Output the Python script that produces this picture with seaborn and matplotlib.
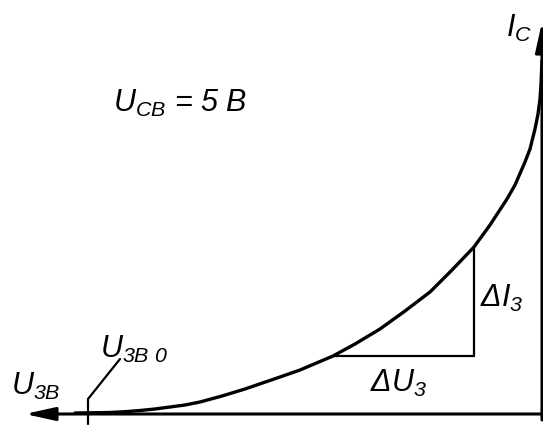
import matplotlib
matplotlib.use("Agg")
import matplotlib.pyplot as plt
import seaborn as sns
import pandas as pd

sns.set_theme(style="white")
plt.rcParams["font.family"] = ["Liberation Sans", "DejaVu Sans"]
plt.rcParams["font.style"] = "italic"
plt.rcParams["text.color"] = "black"
plt.rcParams["mathtext.fontset"] = "custom"
plt.rcParams["mathtext.it"] = "Liberation Sans:italic"
plt.rcParams["mathtext.rm"] = "Liberation Sans:italic"
plt.rcParams["mathtext.default"] = "it"

# Input characteristic: U grows to the left of the origin, I upwards
u_eb = [467, 452, 432, 417, 402, 387, 372, 357, 342, 320, 297, 262, 242,
        209, 187, 162, 137, 112, 90, 68, 52, 35, 27, 17, 12, 7, 4, 2, 1, 0]
i_c = [1, 1.2, 1.5, 2.3, 3.5, 5, 7, 9, 12, 18, 25, 37, 44,
       58, 70, 85, 103, 122, 144, 167, 189, 215, 229, 252, 265, 285, 300,
       315, 330, 353]
u_eb0 = 454          # cut-off voltage marker
lo, hi = 13, 19      # curve points that bound the increment triangle

curve = pd.DataFrame({"U": u_eb, "I": i_c})

fig = plt.figure(figsize=(5.43, 4.27), dpi=100)
ax = fig.add_axes([0, 0, 1, 1])
ax.set_xlim(542, -1)
ax.set_ylim(-12, 415)
ax.axis("off")

sns.lineplot(data=curve, x="U", y="I", sort=False, estimator=None,
             color="black", lw=2.4, ax=ax)

# coordinate axes with arrows
arrow = dict(arrowstyle="-|>,head_length=1.8,head_width=0.4", lw=2.2,
             color="black", shrinkA=0, shrinkB=0, mutation_scale=10)
ax.annotate("", xy=(517, 0), xytext=(-1, 0), arrowprops=arrow)
ax.annotate("", xy=(0, 392), xytext=(0, -6), arrowprops=arrow)

# increment triangle
ax.plot([u_eb[lo], u_eb[hi]], [i_c[lo], i_c[lo]], color="black", lw=1.6)
ax.plot([u_eb[hi], u_eb[hi]], [i_c[lo], i_c[hi]], color="black", lw=1.6)

# cut-off voltage tick and leader
ax.plot([u_eb0, u_eb0], [-10, 15], color="black", lw=1.6)
ax.plot([u_eb0, u_eb0 - 32], [15, 55], color="black", lw=1.6)

fs = 22
ax.text(36, 378, r"$I_{C}$", fontsize=fs, ha="left", va="baseline")
ax.text(429, 303, r"$U_{CB}$ = 5 B", fontsize=fs, ha="left", va="baseline")
ax.text(62, 108, r"Δ$I_{3}$", fontsize=fs, ha="left", va="baseline")
ax.text(172, 23, r"Δ$U_{3}$", fontsize=fs, ha="left", va="baseline")
ax.text(531, 20, r"$U_{3B}$", fontsize=fs, ha="left", va="baseline")
ax.text(442, 57, r"$U_{3B\ 0}$", fontsize=fs, ha="left", va="baseline")

fig.savefig("out.png", dpi=100)
